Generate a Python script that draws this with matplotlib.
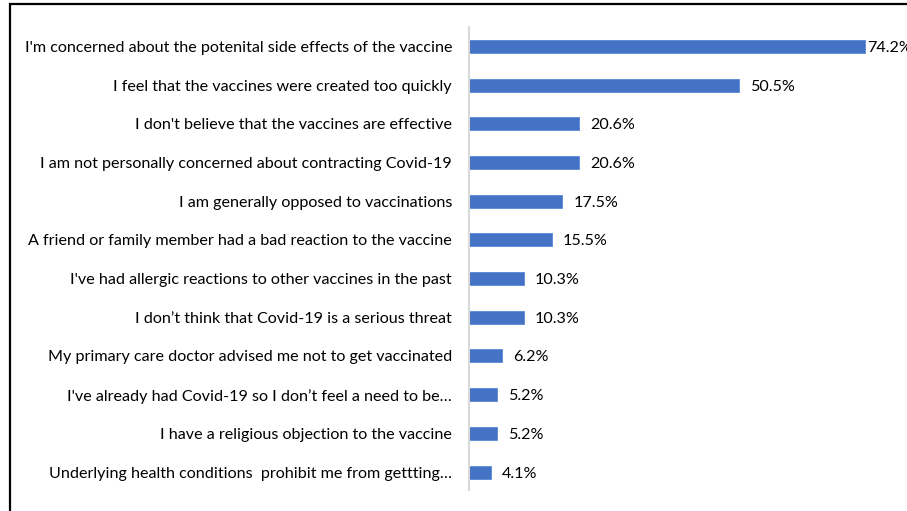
import matplotlib
matplotlib.use("Agg")
import matplotlib.pyplot as plt
from matplotlib.patches import Rectangle

categories = [
    "I'm concerned about the potenital side effects of the vaccine",
    "I feel that the vaccines were created too quickly",
    "I don't believe that the vaccines are effective",
    "I am not personally concerned about contracting Covid-19",
    "I am generally opposed to vaccinations",
    "A friend or family member had a bad reaction to the vaccine",
    "I've had allergic reactions to other vaccines in the past",
    "I don\u2019t think that Covid-19 is a serious threat",
    "My primary care doctor advised me not to get vaccinated",
    "I've already had Covid-19 so I don\u2019t feel a need to be\u2026",
    "I have a religious objection to the vaccine",
    "Underlying health conditions  prohibit me from gettting\u2026",
]
values = [74.2, 50.5, 20.6, 20.6, 17.5, 15.5, 10.3, 10.3, 6.2, 5.2, 5.2, 4.1]
value_labels = ["74.2%", "50.5%", "20.6%", "20.6%", "17.5%", "15.5%",
                "10.3%", "10.3%", "6.2%", "5.2%", "5.2%", "4.1%"]

W, H = 907, 511
fig = plt.figure(figsize=(W / 100, H / 100), dpi=100)
plt.rcParams['font.family'] = ['Lato', 'DejaVu Sans']

# axes geometry in pixels
ax_left, ax_right = 469, 907
ax_top, ax_bot = 27, 490
ax = fig.add_axes([ax_left / W, 1 - ax_bot / H, (ax_right - ax_left) / W, (ax_bot - ax_top) / H])

px_per_unit = 5.34
ax.set_xlim(0, (ax_right - ax_left) / px_per_unit)

n = len(categories)
ys = list(range(n))
first_c, last_c = 46.5, 472
step = (last_c - first_c) / (n - 1)
top_val = -(first_c - ax_top) / step
bot_val = (n - 1) + (ax_bot - last_c) / step
ax.set_ylim(bot_val, top_val)

bar_color = "#4472C4"
ax.barh(ys, values, height=13 / step, color=bar_color, edgecolor="#5B87D6", linewidth=0.6)

fs = 11.6
ax.set_yticks(ys)
ax.set_yticklabels(categories, fontsize=fs, color="#000000")
ax.tick_params(axis="y", length=0, pad=12.2)
ax.set_xticks([])
for s in ["top", "right", "bottom"]:
    ax.spines[s].set_visible(False)
ax.spines["left"].set_color("#D9D9D9")
ax.spines["left"].set_linewidth(1.5)

xmax = ax.get_xlim()[1]
for y, v, lab in zip(ys, values, value_labels):
    off = 11 / px_per_unit
    if v + off + 8 > xmax:
        off = 1.5 / px_per_unit
    ax.text(v + off, y, lab, va="center_baseline", ha="left", fontsize=fs, color="#000000",
            clip_on=False)

# outer border (top and left visible)
fig.patches.append(Rectangle((10 / W, -0.1), 1.2, 1 - 4.5 / H + 0.1, transform=fig.transFigure,
                             fill=False, edgecolor="#000000", linewidth=1.6))

fig.savefig("out.png", dpi=100)
